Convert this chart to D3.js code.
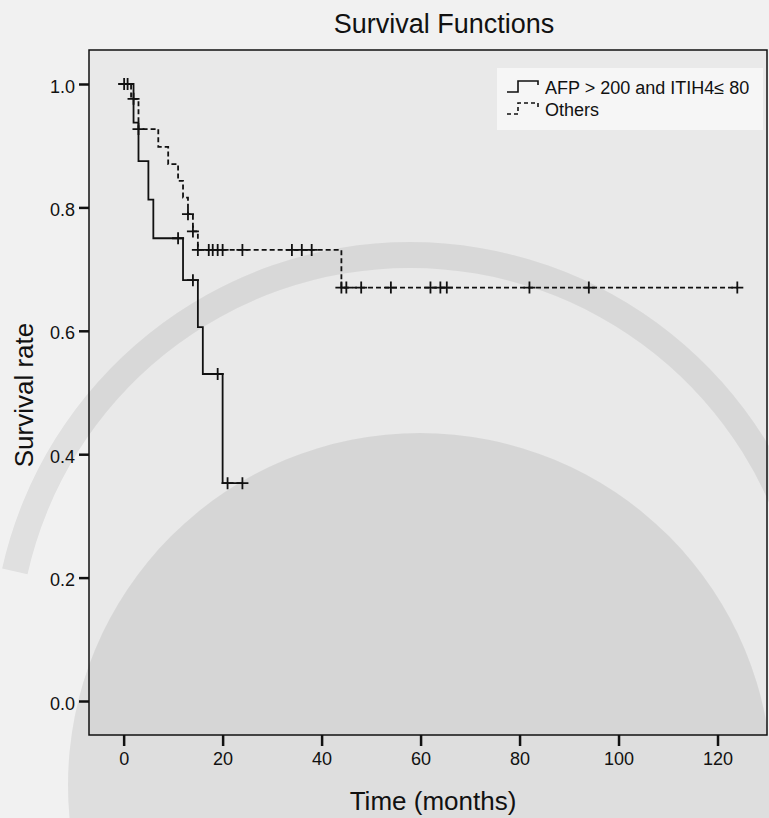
<!DOCTYPE html>
<html>
<head>
<meta charset="utf-8">
<script src="https://cdn.jsdelivr.net/npm/d3@7"></script>
<style>
  body { margin: 0; background: #f1f1f1; }
  text { font-family: "Liberation Sans", Arial, sans-serif; fill: #111; }
</style>
</head>
<body>
<script>
// groups
const groupNames = ["AFP > 200 and ITIH4\u2264 80", "Others"];

// AFP > 200 and ITIH4 <= 80 (solid)
const afpEventTimes = [2, 3, 5, 6, 12, 15, 16, 20];
const afpSurvival   = [0.9375, 0.875, 0.8125, 0.75, 0.682, 0.606, 0.530, 0.353];
const afpCensorTimes = [0.1, 11, 14, 19, 21, 24];
const afpLastTime = 24;

// Others (dashed)
const othEventTimes = [1.5, 3, 7, 9, 11, 12, 13, 14, 15, 44];
const othSurvival   = [0.976, 0.927, 0.898, 0.870, 0.843, 0.816, 0.789, 0.761, 0.731, 0.670];
const othCensorTimes = [0.8, 2, 3, 13, 14, 15, 17.2, 18, 19, 20, 24, 34, 36, 38,
                        44, 45, 48, 54, 62, 64, 65.3, 82, 94, 124];
const othLastTime = 124;

// axes
const xTicks = [0, 20, 40, 60, 80, 100, 120];
const yTicks = [0, 0.2, 0.4, 0.6, 0.8, 1.0];

function main(){
    const width = 769, height = 818;
    const left = 89, right = 767, top = 50, bottom = 735;

    const svg = d3.select("body").append("svg")
        .attr("width", width)
        .attr("height", height);

    const x = d3.scaleLinear().domain([-7, 130]).range([left, right]);
    const y = d3.scaleLinear().domain([-0.0551, 1.0551]).range([bottom, top]);

    // plot background
    svg.append("rect")
        .attr("x", left).attr("y", top)
        .attr("width", right - left).attr("height", bottom - top)
        .attr("fill", "#e9e9e9");

    // faint watermark (upper ring + disk) behind everything
    const wm = svg.append("g").attr("fill", "#000").attr("pointer-events", "none");
    wm.append("path")
        .attr("transform", "translate(410,660)")
        .attr("d", d3.arc()({innerRadius: 392, outerRadius: 418, startAngle: -1.35, endAngle: 1.35}))
        .attr("opacity", 0.07);
    wm.append("circle")
        .attr("cx", 420).attr("cy", 785).attr("r", 352)
        .attr("opacity", 0.08);

    // legend box
    svg.append("rect")
        .attr("x", 497).attr("y", 68)
        .attr("width", 266).attr("height", 62)
        .attr("fill", "#f6f6f6");

    // frame
    svg.append("rect")
        .attr("x", left).attr("y", top)
        .attr("width", right - left).attr("height", bottom - top)
        .attr("fill", "none")
        .attr("stroke", "#111")
        .attr("stroke-width", 1.5);

    // y axis
    const yAxis = svg.append("g")
        .attr("transform", `translate(${left},0)`)
        .call(d3.axisLeft(y).tickValues(yTicks).tickFormat(d3.format(".1f")).tickSize(10).tickPadding(4));
    yAxis.select(".domain").remove();
    yAxis.selectAll(".tick line").attr("stroke", "#111").attr("stroke-width", 2.5);
    yAxis.selectAll(".tick text")
        .attr("font-size", 18).attr("dy", "0.45em")
        .style("font-family", "'Liberation Sans', Arial, sans-serif").attr("fill", "#333");

    // x axis
    const xAxis = svg.append("g")
        .attr("transform", `translate(0,${bottom})`)
        .call(d3.axisBottom(x).tickValues(xTicks).tickSize(11).tickPadding(6));
    xAxis.select(".domain").remove();
    xAxis.selectAll(".tick line").attr("stroke", "#111").attr("stroke-width", 2.5);
    xAxis.selectAll(".tick text")
        .attr("font-size", 18)
        .style("font-family", "'Liberation Sans', Arial, sans-serif").attr("fill", "#333");

    // titles
    svg.append("text")
        .attr("x", 444).attr("y", 33)
        .attr("text-anchor", "middle")
        .attr("font-size", 27)
        .text("Survival Functions");

    svg.append("text")
        .attr("x", 433).attr("y", 810)
        .attr("text-anchor", "middle")
        .attr("font-size", 26)
        .text("Time (months)");

    svg.append("text")
        .attr("transform", "translate(33,395) rotate(-90)")
        .attr("text-anchor", "middle")
        .attr("font-size", 26)
        .text("Survival rate");

    // curves
    const series = [
        {times: afpEventTimes, surv: afpSurvival, censor: afpCensorTimes, last: afpLastTime, dash: null},
        {times: othEventTimes, surv: othSurvival, censor: othCensorTimes, last: othLastTime, dash: "5,3"}
    ];

    const line = d3.line()
        .x(d => x(d[0]))
        .y(d => y(d[1]))
        .curve(d3.curveStepAfter);

    function survivalAt(s, t){
        let v = 1;
        s.times.forEach(function(et, i){ if (t >= et) v = s.surv[i]; });
        return v;
    }

    series.forEach(function(s){
        const pts = [[0, 1]];
        s.times.forEach(function(t, i){ pts.push([t, s.surv[i]]); });
        pts.push([s.last, s.surv[s.surv.length - 1]]);

        svg.append("path")
            .attr("d", line(pts))
            .attr("fill", "none")
            .attr("stroke", "#111")
            .attr("stroke-width", 1.8)
            .attr("stroke-dasharray", s.dash);

        svg.append("g").selectAll("path")
            .data(s.censor)
            .enter().append("path")
            .attr("d", function(t){
                const cx = x(t), cy = y(survivalAt(s, t));
                return `M${cx - 6},${cy}H${cx + 6}M${cx},${cy - 6}V${cy + 6}`;
            })
            .attr("stroke", "#111")
            .attr("stroke-width", 1.8);
    });

    // legend
    const legend = svg.append("g");
    const legendRows = [
        {name: groupNames[0], dy: 0, dash: null},
        {name: groupNames[1], dy: 22, dash: "4,3"}
    ];
    legendRows.forEach(function(r){
        legend.append("path")
            .attr("d", `M507,${92 + r.dy}H518V${81 + r.dy}H538V${85 + r.dy}`)
            .attr("fill", "none")
            .attr("stroke", "#111")
            .attr("stroke-width", 1.6)
            .attr("stroke-dasharray", r.dash);
        legend.append("text")
            .attr("x", 545).attr("y", 94 + r.dy)
            .attr("font-size", 18)
            .attr("fill", "#222")
            .text(r.name);
    });
}
main();
</script>
</body>
</html>
